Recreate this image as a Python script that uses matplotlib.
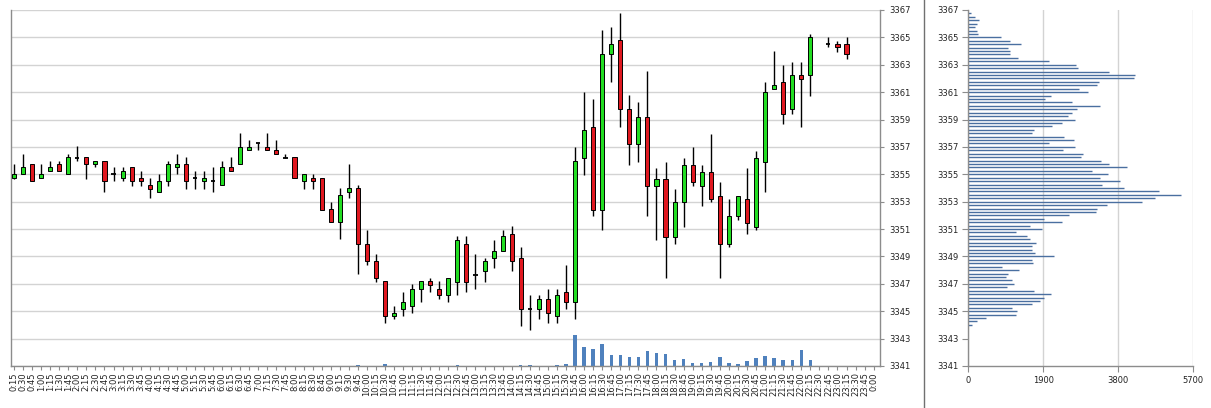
import matplotlib
matplotlib.use("Agg")
import matplotlib.pyplot as plt
import numpy as np
from matplotlib.lines import Line2D

# ---------------- data ----------------
time_labels = ["%d:%02d" % (((k + 1) * 15 // 60) % 24, ((k + 1) * 15) % 60) for k in range(96)]

N = None
opens = [3354.72, 3355.01, 3355.75, 3354.72, 3355.21, 3355.75, 3355.01, 3356.20, 3356.26, 3355.75,
         3355.97, 3355.00, 3354.72, 3355.53, 3354.72, 3354.20, 3353.74, 3354.48, 3355.53, 3355.75,
         3354.70, 3354.48, 3354.48, 3354.21, 3355.53, 3355.75, 3356.78, 3357.27, 3357.00, 3356.78,
         3356.22, 3356.26, 3354.48, 3354.72, 3354.72, 3352.44, 3351.49, 3353.74, 3353.99, 3349.93,
         3348.66, 3347.18, 3344.64, 3345.15, 3345.37, 3346.64, 3347.18, 3346.64, 3346.17, 3347.15,
         3349.93, 3347.61, 3347.96, 3348.91, 3349.42, 3350.67, 3348.91, 3345.15, 3345.18, 3345.91,
         3344.64, 3346.44, 3345.69, 3356.22, 3358.49, 3352.42, 3363.78, 3364.81, 3359.74, 3357.22,
         3359.22, 3354.15, 3354.69, 3350.42, 3352.95, 3355.71, 3354.18, 3355.20, 3353.44, 3349.90,
         3351.98, 3353.20, 3351.15, 3355.90, 3361.20, 3361.71, 3359.74, 3362.22, 3362.22, N,
         3364.49, 3364.51, 3364.51, N, N, N]
highs = [3355.73, 3356.49, 3355.75, 3355.75, 3355.97, 3355.97, 3356.49, 3357.05, 3356.26, 3355.97,
         3355.97, 3355.53, 3355.53, 3355.53, 3355.24, 3354.72, 3355.01, 3355.97, 3356.49, 3356.26,
         3355.24, 3355.24, 3355.53, 3355.97, 3356.26, 3358.03, 3357.51, 3357.27, 3358.03, 3357.51,
         3356.49, 3356.26, 3355.01, 3355.01, 3354.72, 3352.98, 3353.99, 3355.75, 3354.21, 3350.96,
         3349.19, 3347.18, 3345.37, 3346.44, 3346.96, 3347.18, 3347.44, 3347.18, 3347.44, 3350.47,
         3350.47, 3349.20, 3348.91, 3350.23, 3350.96, 3351.20, 3349.69, 3346.17, 3346.17, 3346.66,
         3346.66, 3348.40, 3356.97, 3361.00, 3360.49, 3365.51, 3365.76, 3366.78, 3360.76, 3360.25,
         3362.54, 3355.49, 3355.93, 3353.96, 3356.22, 3356.96, 3355.71, 3357.98, 3354.44, 3353.20,
         3353.44, 3355.49, 3356.71, 3361.71, 3364.00, 3362.95, 3363.22, 3363.22, 3365.24, N,
         3365.00, 3364.75, 3365.00, N, N, N]
lows = [3354.66, 3355.00, 3354.48, 3354.72, 3355.21, 3355.21, 3355.01, 3355.95, 3354.67, 3355.53,
        3353.74, 3354.48, 3354.48, 3354.18, 3354.18, 3353.25, 3353.74, 3354.18, 3355.01, 3353.96,
        3353.96, 3353.96, 3353.74, 3354.21, 3355.24, 3355.75, 3356.78, 3356.78, 3356.78, 3356.49,
        3356.22, 3354.72, 3353.96, 3353.96, 3352.42, 3351.49, 3350.24, 3353.25, 3347.69, 3348.40,
        3347.13, 3344.12, 3344.42, 3344.64, 3344.86, 3345.66, 3346.39, 3345.90, 3345.69, 3346.17,
        3346.39, 3346.61, 3347.13, 3348.15, 3349.42, 3347.93, 3343.91, 3343.64, 3344.42, 3344.12,
        3344.12, 3345.15, 3344.42, 3354.98, 3351.98, 3350.96, 3361.71, 3358.46, 3355.66, 3355.88,
        3351.95, 3350.23, 3347.44, 3349.90, 3351.15, 3354.18, 3352.68, 3352.95, 3347.42, 3349.69,
        3351.69, 3350.64, 3350.96, 3353.71, 3361.20, 3358.68, 3359.44, 3358.46, 3360.71, N,
        3364.27, 3363.95, 3363.44, N, N, N]
closes = [3355.01, 3355.53, 3354.48, 3355.01, 3355.53, 3355.21, 3356.26, 3356.20, 3355.75, 3355.97,
          3354.48, 3355.00, 3355.24, 3354.48, 3354.48, 3353.96, 3354.48, 3355.75, 3355.75, 3354.48,
          3354.70, 3354.72, 3354.48, 3355.53, 3355.24, 3357.00, 3357.00, 3357.27, 3356.78, 3356.49,
          3356.22, 3354.72, 3355.01, 3354.48, 3352.42, 3351.49, 3353.47, 3353.99, 3349.93, 3348.66,
          3347.42, 3344.64, 3344.89, 3345.69, 3346.64, 3347.18, 3346.94, 3346.17, 3347.44, 3350.23,
          3347.15, 3347.61, 3348.69, 3349.42, 3350.47, 3348.69, 3345.18, 3345.15, 3345.91, 3344.86,
          3346.20, 3345.69, 3355.94, 3358.22, 3352.42, 3363.78, 3364.51, 3359.74, 3357.22, 3359.22,
          3354.15, 3354.69, 3350.42, 3352.95, 3355.71, 3354.44, 3355.20, 3353.20, 3349.90, 3351.98,
          3353.44, 3351.47, 3356.22, 3360.98, 3361.51, 3359.44, 3362.22, 3361.97, 3365.00, N,
          3364.49, 3364.27, 3363.76, N, N, N]

volumes = [0, 0, 0, 0, 0, 0, 0, 0, 0, 0,
           0, 0, 0, 0, 0, 0, 0, 0, 0, 0,
           0, 0, 0, 0, 0, 0, 0, 0, 0, 0,
           0, 0, 0, 0, 0, 0, 0, 0, 100, 0,
           0, 150, 0, 0, 0, 0, 0, 0, 0, 70,
           0, 0, 0, 0, 0, 0, 70, 70, 0, 0,
           70, 200, 3070, 1870, 1670, 2170, 1070, 1070, 870, 870,
           1470, 1270, 1170, 570, 670, 270, 270, 370, 870, 270,
           170, 470, 770, 970, 770, 570, 570, 1570, 570, 0,
           0, 0, 0, 0, 0, 0]

profile_start = 3344.0
profile_step = 0.25
profile_volume = [84, 211, 448, 1208, 1224, 1106, 1604, 1815, 1917, 2086,
                  1672, 980, 1157, 1115, 954, 996, 1284, 861, 1638, 1621,
                  2166, 1693, 1608, 1608, 1710, 1566, 1490, 1208, 1870, 1558,
                  2377, 1917, 2555, 3225, 3251, 3517, 4400, 4720, 5388, 4826,
                  3939, 3378, 3850, 3331, 3550, 3145, 4032, 3555, 3361, 2863,
                  2896, 2402, 2698, 2039, 2676, 2419, 1604, 1663, 2119, 2373,
                  2694, 2516, 2618, 2744, 3335, 2618, 1934, 2086, 3040, 2812,
                  3259, 3310, 4197, 4222, 3563, 2770, 2736, 2043, 1250, 1055,
                  1047, 1005, 1334, 1055, 819, 245, 220, 169, 228, 270,
                  169, 59]

price_ticks = list(range(3341, 3368, 2))
profile_xticks = [0, 1900, 3800, 5700]

# ---------------- styling ----------------
W, H = 1211, 408
fig = plt.figure(figsize=(W / 100, H / 100), dpi=100)
plt.rcParams['font.family'] = ['DejaVu Sans']
GREEN = '#22DD22'
RED = '#E01820'
GRID = '#D3D3D3'
SPINE = '#8C8C8C'
TXT = '#222222'
FS = 6

ax = fig.add_axes([11 / W, 1 - 366 / H, (880 - 11) / W, (366 - 10) / H])
ax2 = fig.add_axes([968.3 / W, 1 - 366 / H, (1193.3 - 968.3) / W, (366 - 10) / H])

# ---- candles ----
x = np.arange(96)
bw = 0.45
for i in range(96):
    o, h, l, c = opens[i], highs[i], lows[i], closes[i]
    if o is None:
        continue
    ax.vlines(i, l, h, color='black', lw=1.0, zorder=2)
    if abs(c - o) < 1e-6:
        ax.hlines(o, i - bw / 2, i + bw / 2, color='black', lw=1.3, zorder=3)
    else:
        col = GREEN if c > o else RED
        ax.bar(i, abs(c - o), bottom=min(o, c), width=bw, color=col,
               edgecolor='black', linewidth=0.7, zorder=3)

# ---- volume bars (scaled to bottom of price axis) ----
vmax = max(volumes)
vscale = 2.25 / vmax
vol_h = [v * vscale for v in volumes]
ax.bar(x, vol_h, bottom=3341, width=0.38, color='#4F81BD', zorder=1.5, linewidth=0)

ax.set_xlim(-0.33, 95.7)
ax.set_ylim(3341, 3367)
ax.set_yticks(price_ticks)
ax.set_yticklabels([str(t) for t in price_ticks])
ax.yaxis.tick_right()
ax.set_xticks(x)
ax.set_xticklabels(time_labels, rotation=90)
ax.tick_params(axis='x', length=3, width=0.8, color=SPINE, labelsize=FS, labelcolor=TXT, pad=1.5)
ax.tick_params(axis='y', length=3, width=0.8, color=SPINE, labelsize=FS, labelcolor=TXT, pad=4)
ax.grid(axis='y', color=GRID, lw=1.0, zorder=0)
ax.set_axisbelow(True)
ax.spines['top'].set_visible(False)
for s in ['left', 'right', 'bottom']:
    ax.spines[s].set_color(SPINE)
    ax.spines[s].set_linewidth(1.0)

# ---- volume profile ----
levels = [profile_start + profile_step * k for k in range(len(profile_volume))]
ax2.hlines(levels, 0, profile_volume, color='#4A6FA0', lw=1.0, zorder=2)
ax2.set_xlim(0, 5700)
ax2.set_ylim(3341, 3367)
ax2.set_yticks(price_ticks)
ax2.set_yticklabels([str(t) for t in price_ticks])
ax2.set_xticks(profile_xticks)
ax2.set_xticklabels([str(t) for t in profile_xticks])
ax2.tick_params(axis='both', length=4, width=0.8, color=SPINE, labelsize=FS, labelcolor=TXT, pad=3)
ax2.grid(axis='x', color=GRID, lw=1.0, zorder=0)
ax2.set_axisbelow(True)
ax2.spines['top'].set_visible(False)
ax2.spines['right'].set_visible(False)
for s in ['left', 'bottom']:
    ax2.spines[s].set_color(SPINE)
    ax2.spines[s].set_linewidth(1.0)

# ---- separator line ----
fig.add_artist(Line2D([923.5 / W, 923.5 / W], [0, 1], transform=fig.transFigure,
                      color='#707070', lw=1.0))

fig.savefig('out.png', dpi=100)
